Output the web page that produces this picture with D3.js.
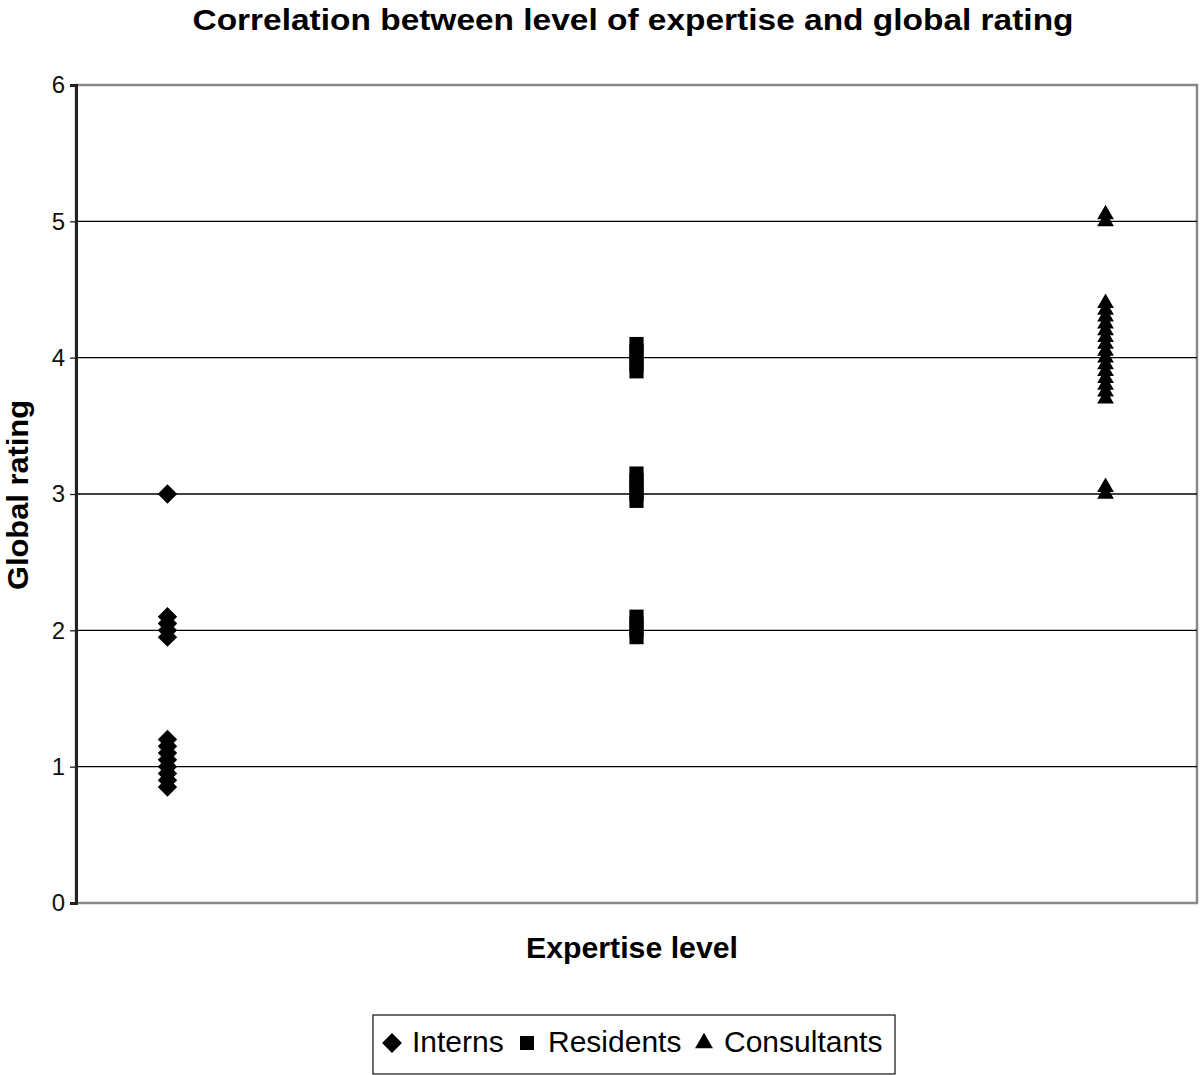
<!DOCTYPE html>
<html>
<head>
<meta charset="utf-8">
<script src="https://cdn.jsdelivr.net/npm/d3@7"></script>
<style>
  body { margin: 0; background: #fff; }
  text { font-family: "Liberation Sans", Arial, sans-serif; }
</style>
</head>
<body>
<svg id="chart" width="1200" height="1075"></svg>
<script>
// data
let groups = ["Interns", "Residents", "Consultants"];
let symbols = [d3.symbolDiamond2, d3.symbolSquare2, d3.symbolTriangle2];
let internsRatings = [3.0, 2.1, 2.05, 2.0, 1.95, 1.2, 1.15, 1.1, 1.05, 1.0, 0.95, 0.9, 0.85];
let residentsRatings = [4.1, 4.05, 4.0, 3.95, 3.9, 3.15, 3.1, 3.05, 3.0, 2.95, 2.1, 2.05, 2.0, 1.95];
let consultantsRatings = [5.05, 5.0, 4.4, 4.35, 4.3, 4.25, 4.2, 4.15, 4.1, 4.05, 4.0, 3.95, 3.9, 3.85, 3.8, 3.75, 3.7, 3.05, 3.0];
let yTicks = [0, 1, 2, 3, 4, 5, 6];

let svg = d3.select("#chart");
let plotLeft = 76, plotRight = 1197, plotTop = 85, plotBottom = 903;

let x = d3.scalePoint().domain(groups).range([plotLeft, plotRight]).padding(0.195);
let y = d3.scaleLinear().domain([0, 6]).range([plotBottom, plotTop]);

// plot frame
svg.append("rect")
    .attr("x", plotLeft).attr("y", plotTop)
    .attr("width", plotRight - plotLeft).attr("height", plotBottom - plotTop)
    .style("fill", "none").style("stroke", "#888").style("stroke-width", 2.5);

// grid lines
svg.append("g")
    .selectAll("line")
    .data(yTicks.filter(function(d) { return d > 0 && d < 6; }))
    .enter().append("line")
    .attr("x1", plotLeft).attr("x2", plotRight)
    .attr("y1", function(d) { return y(d); })
    .attr("y2", function(d) { return y(d); })
    .style("stroke", "#000").style("stroke-width", 1.3);

// y axis
let yAxis = d3.axisLeft(y).tickValues(yTicks).tickFormat(d3.format("d")).tickSize(6).tickPadding(5);
let ga = svg.append("g").attr("transform", "translate(" + plotLeft + ",0)").call(yAxis);
ga.attr("font-size", 24).attr("font-family", "'Liberation Sans', Arial, sans-serif");
ga.select(".domain").style("stroke", "#222").style("stroke-width", 3);
ga.selectAll(".tick line").style("stroke", "#222").style("stroke-width", 1.3);
ga.selectAll(".tick text").style("fill", "#111");

// points
let series = [internsRatings, residentsRatings, consultantsRatings];
let pts = [];
series.forEach(function(vals, i) {
    vals.forEach(function(v) { pts.push({group: groups[i], sym: symbols[i], value: v}); });
});
let sizes = {"Interns": 240, "Residents": 256, "Consultants": 200};
svg.append("g")
    .selectAll("path")
    .data(pts)
    .enter().append("path")
    .attr("transform", function(d) { return "translate(" + x(d.group) + "," + y(d.value) + ")"; })
    .attr("d", function(d) { return d3.symbol().type(d.sym).size(sizes[d.group])(); })
    .style("fill", "#000");

// titles
svg.append("text")
    .attr("x", 633).attr("y", 30)
    .attr("text-anchor", "middle")
    .attr("textLength", 881).attr("lengthAdjust", "spacingAndGlyphs")
    .style("font-size", "30px").style("font-weight", "bold")
    .text("Correlation between level of expertise and global rating");

svg.append("text")
    .attr("x", 632).attr("y", 958)
    .attr("text-anchor", "middle")
    .attr("textLength", 212).attr("lengthAdjust", "spacingAndGlyphs")
    .style("font-size", "30px").style("font-weight", "bold")
    .text("Expertise level");

svg.append("text")
    .attr("transform", "translate(28,495) rotate(-90)")
    .attr("text-anchor", "middle")
    .attr("textLength", 190).attr("lengthAdjust", "spacingAndGlyphs")
    .style("font-size", "30px").style("font-weight", "bold")
    .text("Global rating");

// legend
let lg = svg.append("g");
lg.append("rect")
    .attr("x", 373).attr("y", 1015).attr("width", 522).attr("height", 59)
    .style("fill", "none").style("stroke", "#222").style("stroke-width", 1.3);
let legendX = [392, 527, 704];
let textX = [412, 548, 724];
groups.forEach(function(g, i) {
    lg.append("path")
        .attr("transform", "translate(" + legendX[i] + ",1043)")
        .attr("d", d3.symbol().type(symbols[i]).size(i == 2 ? 230 : 250)())
        .style("fill", "#000");
    lg.append("text")
        .attr("x", textX[i]).attr("y", 1052)
        .style("font-size", "30px")
        .text(g);
});
</script>
</body>
</html>
